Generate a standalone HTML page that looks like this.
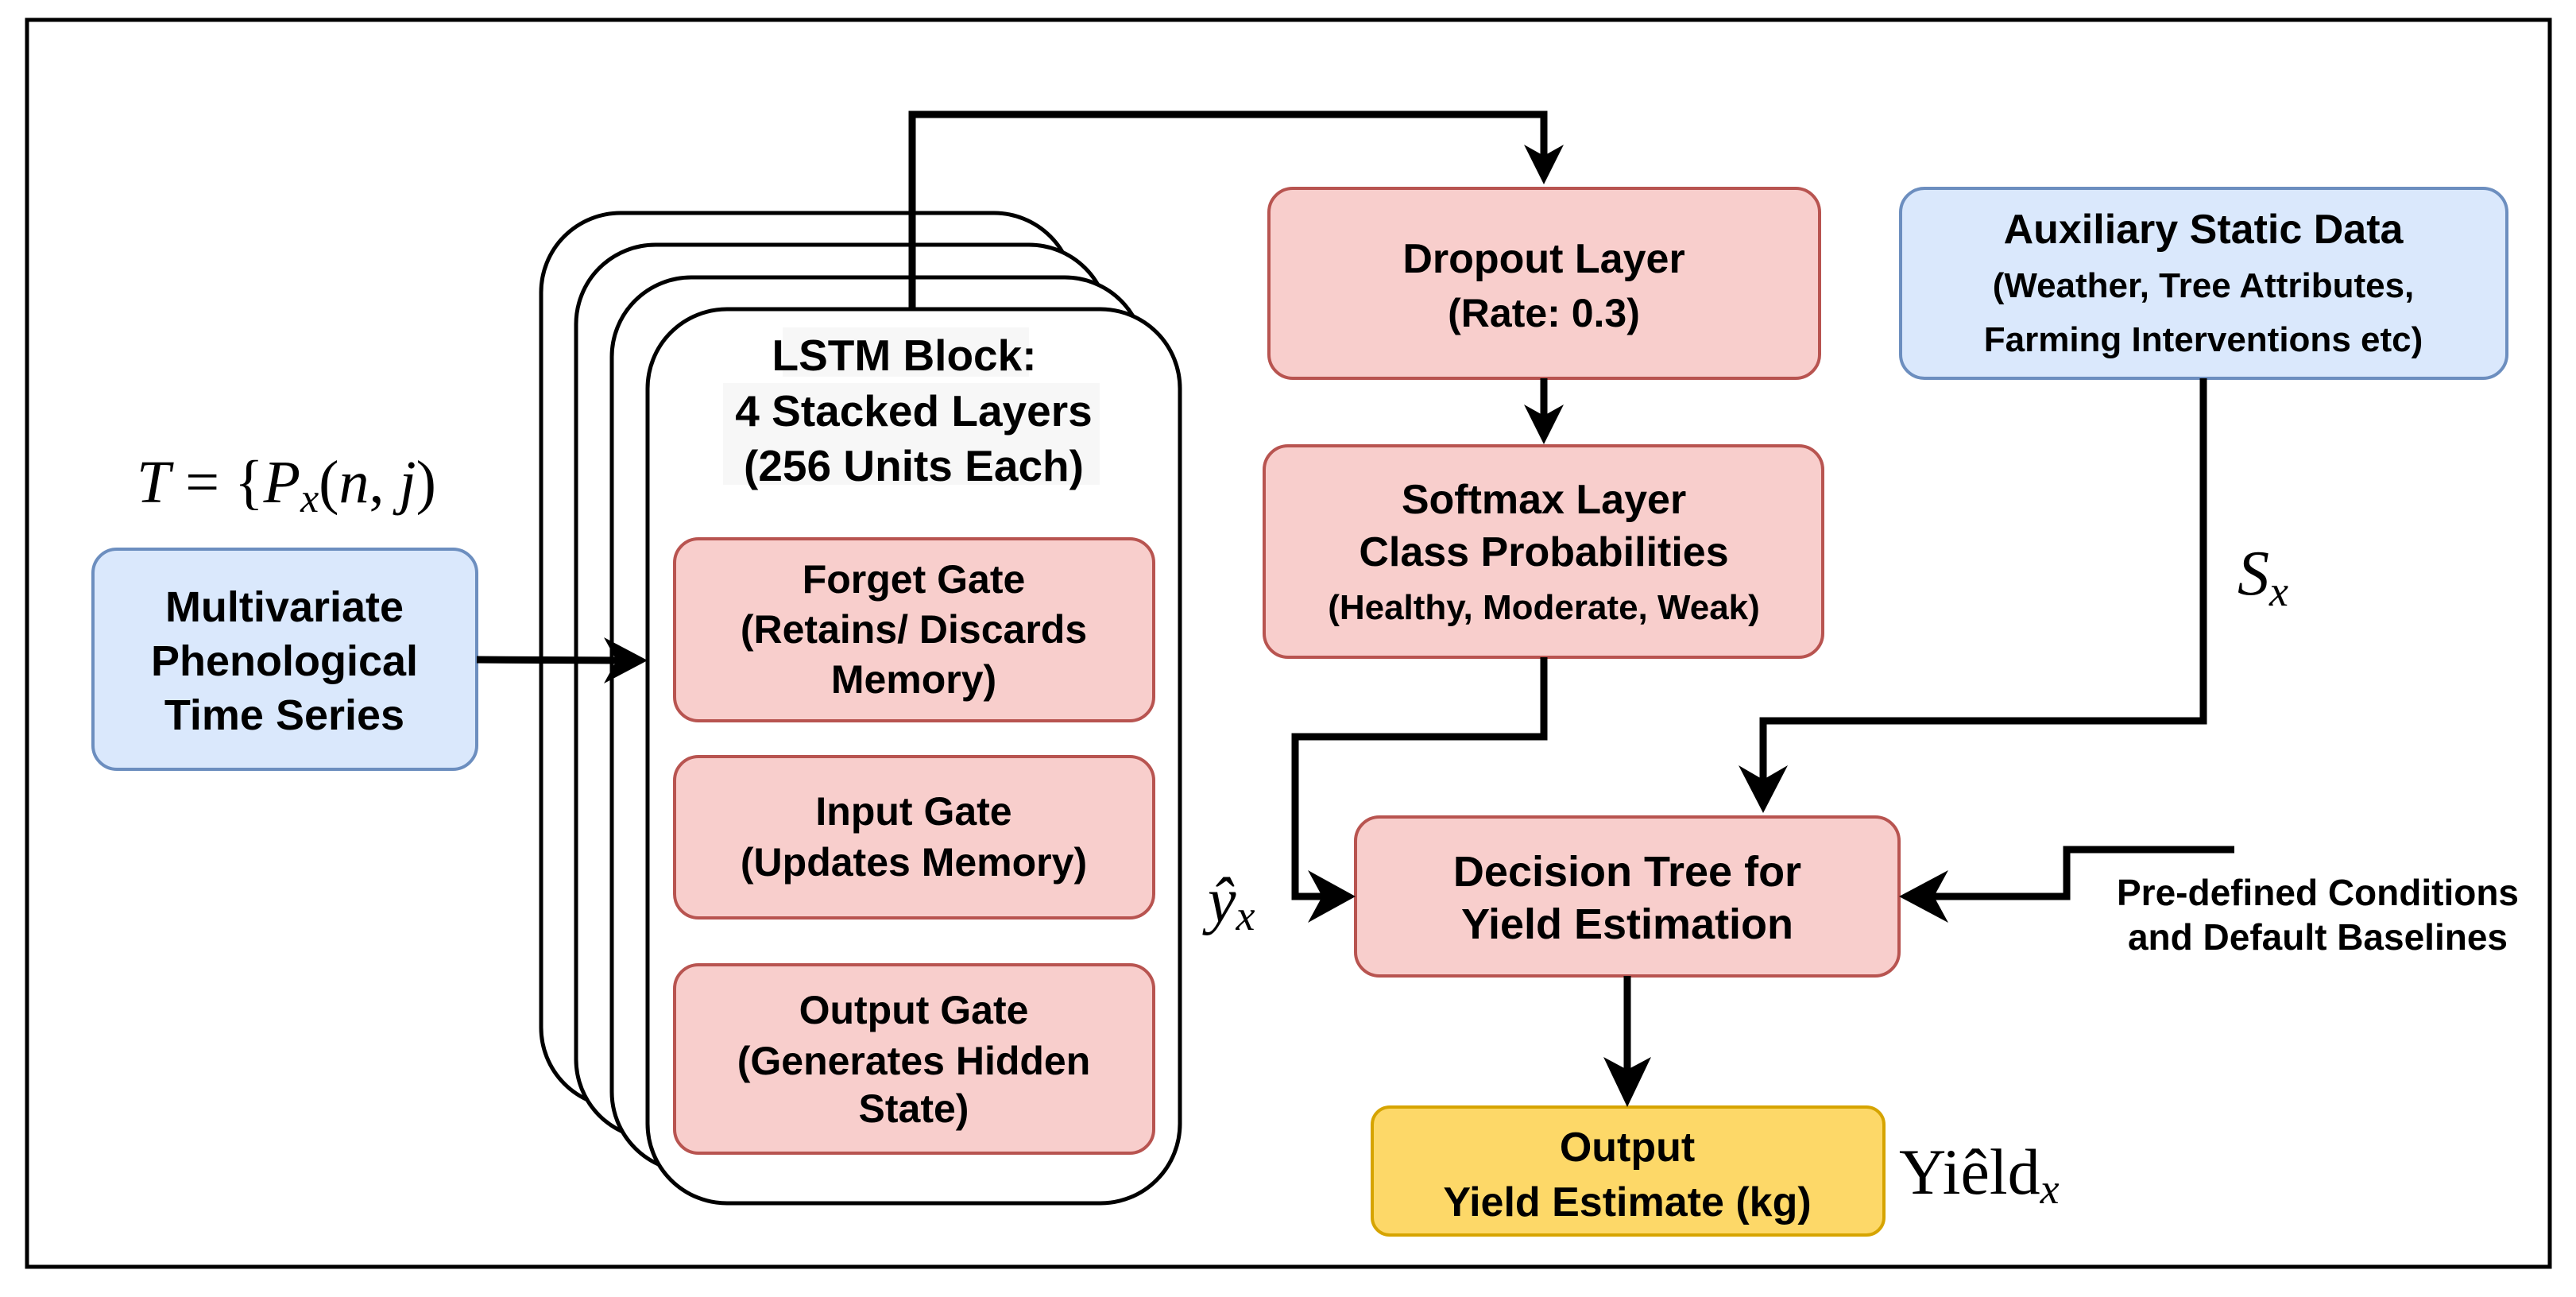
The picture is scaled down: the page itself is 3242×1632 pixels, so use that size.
<!DOCTYPE html>
<html><head><meta charset="utf-8"><style>
html,body{margin:0;padding:0;background:#fff}
svg{display:block}
text{font-family:"Liberation Sans",Arial,sans-serif;font-weight:bold;fill:#000;text-anchor:middle}
.m{font-family:"Liberation Serif",serif;font-weight:normal;font-style:italic;text-anchor:start}
.u{font-style:normal}
.i{font-style:italic}
</style></head><body>
<svg width="3242" height="1632" viewBox="0 0 3242 1632" xmlns="http://www.w3.org/2000/svg">
<rect x="0" y="0" width="3242" height="1632" fill="#fff"/>
<rect x="34" y="25" width="3175" height="1569" fill="none" stroke="#000" stroke-width="5"/>

<!-- stacked cards -->
<rect x="681" y="268" width="670" height="1125" rx="100" fill="#fff" stroke="#000" stroke-width="5"/>
<rect x="725" y="308" width="670" height="1125" rx="100" fill="#fff" stroke="#000" stroke-width="5"/>
<rect x="770" y="349" width="670" height="1125" rx="100" fill="#fff" stroke="#000" stroke-width="5"/>
<rect x="815" y="389" width="670" height="1125" rx="100" fill="#fff" stroke="#000" stroke-width="5"/>

<rect x="985" y="412" width="310" height="62" fill="#f7f7f7"/>
<rect x="910" y="482" width="474" height="128" fill="#f7f7f7"/>
<text x="1138" y="466" font-size="55">LSTM Block:</text>
<text x="1150" y="536" font-size="55">4 Stacked Layers</text>
<text x="1150" y="605" font-size="55">(256 Units Each)</text>

<!-- gates -->
<g fill="#f8cecc" stroke="#b85450" stroke-width="4">
<rect x="849" y="678" width="603" height="229" rx="30"/>
<rect x="849" y="952" width="603" height="203" rx="30"/>
<rect x="849" y="1214" width="603" height="237" rx="30"/>
<rect x="1597" y="237" width="693" height="239" rx="30"/>
<rect x="1591" y="561" width="703" height="266" rx="30"/>
<rect x="1706" y="1028" width="684" height="200" rx="30"/>
</g>
<rect x="2392" y="237" width="763" height="239" rx="30" fill="#dae8fc" stroke="#6c8ebf" stroke-width="4"/>
<rect x="117" y="691" width="483" height="277" rx="30" fill="#dae8fc" stroke="#6c8ebf" stroke-width="4"/>
<rect x="1727" y="1393" width="644" height="161" rx="22" fill="#fdd868" stroke="#d6a400" stroke-width="4"/>

<text x="1150" y="746" font-size="50">Forget Gate</text>
<text x="1150" y="809" font-size="50">(Retains/ Discards</text>
<text x="1150" y="872" font-size="50">Memory)</text>
<text x="1150" y="1038" font-size="50">Input Gate</text>
<text x="1150" y="1102" font-size="50">(Updates Memory)</text>
<text x="1150" y="1288" font-size="50">Output Gate</text>
<text x="1150" y="1352" font-size="50">(Generates Hidden</text>
<text x="1150" y="1412" font-size="50">State)</text>

<text x="358" y="782" font-size="54">Multivariate</text>
<text x="358" y="850" font-size="54">Phenological</text>
<text x="358" y="918" font-size="54">Time Series</text>

<text x="1943" y="343" font-size="52">Dropout Layer</text>
<text x="1943" y="411" font-size="50">(Rate: 0.3)</text>
<text x="1943" y="646" font-size="52">Softmax Layer</text>
<text x="1943" y="712" font-size="52">Class Probabilities</text>
<text x="1943" y="779" font-size="44">(Healthy, Moderate, Weak)</text>
<text x="2773" y="306" font-size="52">Auxiliary Static Data</text>
<text x="2773" y="374" font-size="44">(Weather, Tree Attributes,</text>
<text x="2773" y="442" font-size="44">Farming Interventions etc)</text>
<text x="2048" y="1115" font-size="54">Decision Tree for</text>
<text x="2048" y="1181" font-size="54">Yield Estimation</text>
<text x="2048" y="1461" font-size="52">Output</text>
<text x="2048" y="1530" font-size="52">Yield Estimate (kg)</text>

<text x="2917" y="1139" font-size="46">Pre-defined Conditions</text>
<text x="2917" y="1195" font-size="46">and Default Baselines</text>

<!-- math labels -->
<text class="m" x="172" y="632" font-size="76">T<tspan class="u"> = {</tspan>P<tspan font-size="52" dy="12">x</tspan><tspan dy="-12" class="u">(</tspan>n<tspan class="u">, </tspan>j<tspan class="u">)</tspan></text>
<text class="m" x="2816" y="748" font-size="80">S<tspan font-size="54" dy="14">x</tspan></text>
<text class="m" x="1520" y="1160" font-size="80">ŷ<tspan font-size="54" dy="10">x</tspan></text>
<text class="m" x="2390" y="1502" font-size="82" style="font-style:normal">Yiêld<tspan style="font-style:italic" font-size="54" dy="12">x</tspan></text>

<!-- connectors -->
<g fill="none" stroke="#000" stroke-width="9">
<polyline points="1148,389 1148,144 1943,144 1943,200"/>
<line x1="1943" y1="476" x2="1943" y2="525"/>
<polyline points="1943,827 1943,927 1630,927 1630,1128 1670,1128"/>
<polyline points="2773,476 2773,907 2219,907 2219,985"/>
<polyline points="2812,1069 2601,1069 2601,1128 2430,1128"/>
<line x1="2048" y1="1228" x2="2048" y2="1350"/>
<polyline points="600,830 780,831"/>
</g>
<g fill="#000">
<polygon points="1943,232 1918,182 1943,196 1968,182"/>
<polygon points="1943,559 1918,509 1943,523 1968,509"/>
<polygon points="1706,1128 1646,1095 1664,1128 1646,1161"/>
<polygon points="2219,1023 2188,963 2219,981 2250,963"/>
<polygon points="2390,1128 2452,1095 2434,1128 2452,1161"/>
<polygon points="2048,1393 2018,1330 2048,1346 2078,1330"/>
<polygon points="815,831 760,802 776,831 760,860"/>
</g>
</svg>
</body></html>
